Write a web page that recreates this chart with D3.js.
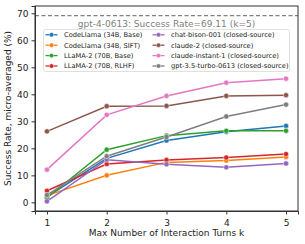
<!DOCTYPE html>
<html>
<head>
<meta charset="utf-8">
<script src="https://cdn.jsdelivr.net/npm/d3@7"></script>
<style>
  body { margin: 0; background: #fff; }
  svg { font-family: "DejaVu Sans", sans-serif; }
</style>
</head>
<body>
<div id="chart"></div>
<script>
// Data
const turns = [1, 2, 3, 4, 5];
const seriesNames = [
    "CodeLlama (34B, Base)",
    "CodeLlama (34B, SIFT)",
    "LLaMA-2 (70B, Base)",
    "LLaMA-2 (70B, RLHF)",
    "chat-bison-001 (closed-source)",
    "claude-2 (closed-source)",
    "claude-instant-1 (closed-source)",
    "gpt-3.5-turbo-0613 (closed-source)"
];
const codellamaBase = [2.0, 16.3, 22.9, 26.1, 28.3];
const codellamaSift = [2.5, 10.0, 14.8, 15.5, 16.8];
const llamaBase = [1.7, 19.5, 24.7, 26.5, 26.5];
const llamaRlhf = [4.3, 14.2, 15.7, 16.6, 17.9];
const chatBison = [0.4, 15.8, 14.1, 13.0, 14.4];
const claude2 = [26.3, 35.6, 35.7, 39.4, 39.7];
const claudeInstant = [12.1, 32.4, 39.4, 44.3, 45.8];
const gpt35 = [2.7, 17.1, 24.2, 31.8, 36.2];
const gpt4Rate = 69.11;
const yTicks = [0, 10, 20, 30, 40, 50, 60, 70];

const seriesValues = [codellamaBase, codellamaSift, llamaBase, llamaRlhf,
    chatBison, claude2, claudeInstant, gpt35];
const colors = ["#1f77b4", "#ff7f0e", "#2ca02c", "#d62728",
    "#9467bd", "#8c564b", "#e377c2", "#7f7f7f"];

const width = 305, height = 244;
const margin = { top: 6, right: 7, bottom: 33, left: 35 };

const svg = d3.select("#chart").append("svg")
    .attr("width", width)
    .attr("height", height);

const x = d3.scaleLinear()
    .domain([0.8, 5.2])
    .range([margin.left, width - margin.right]);
const y = d3.scaleLinear()
    .domain([-3.2, 72.7])
    .range([height - margin.bottom, margin.top]);

// gpt-4 reference line
svg.append("line")
    .attr("x1", x(0.8)).attr("x2", x(5.2))
    .attr("y1", y(gpt4Rate)).attr("y2", y(gpt4Rate))
    .attr("stroke", "#808080")
    .attr("stroke-width", 1.2)
    .attr("stroke-dasharray", "4,2.5");

svg.append("text")
    .attr("x", x(3))
    .attr("y", y(gpt4Rate) + 11)
    .attr("text-anchor", "middle")
    .attr("font-size", "9px")
    .attr("fill", "#808080")
    .text(`gpt-4-0613: Success Rate=${gpt4Rate} (k=5)`);

// series lines
const line = d3.line()
    .x((d, i) => x(turns[i]))
    .y(d => y(d));

seriesValues.forEach((vals, s) => {
    const g = svg.append("g");
    g.append("path")
        .datum(vals)
        .attr("fill", "none")
        .attr("stroke", colors[s])
        .attr("stroke-width", 1.5)
        .attr("d", line);
    g.selectAll("circle")
        .data(vals)
        .join("circle")
        .attr("cx", (d, i) => x(turns[i]))
        .attr("cy", d => y(d))
        .attr("r", 2.6)
        .attr("fill", colors[s])
        .attr("stroke", "#fff")
        .attr("stroke-width", 0.5);
});

// axes
const xAxis = svg.append("g")
    .attr("transform", `translate(0,${height - margin.bottom})`)
    .call(d3.axisBottom(x).tickValues(turns).tickFormat(d3.format("d")).tickSizeOuter(0).tickSize(3.5));
const yAxis = svg.append("g")
    .attr("transform", `translate(${margin.left},0)`)
    .call(d3.axisLeft(y).tickValues(yTicks).tickSizeOuter(0).tickSize(3.5));

[xAxis, yAxis].forEach(a => {
    a.selectAll("text").attr("font-size", "9px").attr("fill", "#222")
        .attr("font-family", "DejaVu Sans, sans-serif");
    a.selectAll("line").attr("stroke", "#333");
    a.select(".domain").attr("stroke", "#333");
});
xAxis.selectAll("text").attr("dy", "0.95em");

// frame (top and right spines)
svg.append("rect")
    .attr("x", margin.left)
    .attr("y", margin.top)
    .attr("width", width - margin.left - margin.right)
    .attr("height", height - margin.top - margin.bottom)
    .attr("fill", "none")
    .attr("stroke", "#333")
    .attr("stroke-width", 1);

// axis labels
svg.append("text")
    .attr("x", (margin.left + width - margin.right) / 2)
    .attr("y", 236)
    .attr("text-anchor", "middle")
    .attr("font-size", "9px")
    .attr("fill", "#222")
    .text("Max Number of Interaction Turns k");

svg.append("text")
    .attr("transform", `translate(11,${(margin.top + height - margin.bottom) / 2}) rotate(-90)`)
    .attr("text-anchor", "middle")
    .attr("font-size", "9px")
    .attr("fill", "#222")
    .text("Success Rate, micro-averaged (%)");

// legend, two columns
const legend = svg.append("g");
legend.append("rect")
    .attr("x", 43.5).attr("y", 29.5)
    .attr("width", 246).attr("height", 42)
    .attr("rx", 2)
    .attr("fill", "#fff")
    .attr("fill-opacity", 0.8)
    .attr("stroke", "#d8d8d8")
    .attr("stroke-width", 0.8);

const colX = [45.5, 152.5];
const rowY = [34.8, 45.2, 55.6, 66];
seriesNames.forEach((name, s) => {
    const gx = colX[Math.floor(s / 4)];
    const gy = rowY[s % 4];
    const item = legend.append("g").attr("transform", `translate(${gx},${gy})`);
    item.append("line")
        .attr("x1", 0).attr("x2", 12)
        .attr("stroke", colors[s])
        .attr("stroke-width", 1.3);
    item.append("circle")
        .attr("cx", 6).attr("r", 2.2)
        .attr("fill", colors[s])
        .attr("stroke", "#fff")
        .attr("stroke-width", 0.4);
    item.append("text")
        .attr("x", 18.5)
        .attr("dy", "0.35em")
        .attr("font-size", "6.7px")
        .attr("fill", "#222")
        .text(name);
});
</script>
</body>
</html>
